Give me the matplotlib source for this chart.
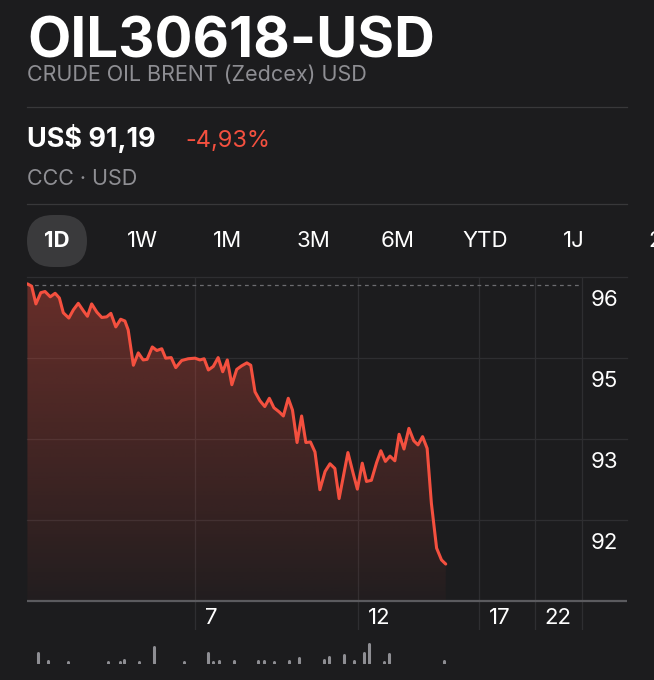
import numpy as np
import matplotlib.pyplot as plt
from matplotlib.patches import FancyBboxPatch, PathPatch
from matplotlib.colors import to_rgb

W, H = 654, 680

symbol = "OIL30618-USD"
long_name = "CRUDE OIL BRENT (Zedcex) USD"
price_text = "US$ 91,19"
change_text = "-4,93%"
exchange = "CCC · USD"
ranges = ["1D", "1W", "1M", "3M", "6M", "YTD", "1J", "2J"]

prev_close = 95.92

# intraday quotes (clock hours, price)
times = [1.86, 1.99, 2.12, 2.27, 2.40, 2.56, 2.71, 2.84, 2.96, 3.13,
         3.27, 3.42, 3.58, 3.70, 3.83, 3.99, 4.14, 4.29, 4.42, 4.57,
         4.72, 4.85, 4.95, 5.11, 5.26, 5.41, 5.53, 5.69, 5.83, 5.98,
         6.10, 6.27, 6.41, 6.59, 6.79, 7.00, 7.15, 7.28, 7.41, 7.56,
         7.71, 7.85, 7.99, 8.13, 8.28, 8.43, 8.59, 8.71, 8.84, 8.99,
         9.14, 9.28, 9.42, 9.58, 9.71, 9.86, 9.99, 10.13, 10.27, 10.40,
         10.54, 10.68, 10.83, 10.99, 11.14, 11.29, 11.42, 11.69, 11.85, 11.98,
         12.13, 12.26, 12.41, 12.57, 12.70, 12.84, 12.98, 13.13, 13.26, 13.41,
         13.56, 13.71, 13.84, 13.98, 14.12, 14.25, 14.41, 14.56, 14.69]
prices = [95.94, 95.90, 95.60, 95.79, 95.81, 95.72, 95.78, 95.70, 95.45, 95.36,
          95.50, 95.61, 95.48, 95.39, 95.60, 95.46, 95.37, 95.38, 95.44, 95.21,
          95.34, 95.31, 95.16, 94.56, 94.77, 94.65, 94.66, 94.87, 94.81, 94.84,
          94.68, 94.69, 94.52, 94.64, 94.67, 94.68, 94.65, 94.67, 94.48, 94.54,
          94.69, 94.45, 94.65, 94.23, 94.49, 94.55, 94.60, 94.56, 94.11, 93.96,
          93.86, 94.00, 93.84, 93.77, 93.70, 94.00, 93.80, 93.25, 93.70, 93.25,
          93.26, 93.09, 92.45, 92.76, 92.89, 92.81, 92.30, 93.08, 92.73, 92.46,
          92.90, 92.59, 92.61, 92.91, 93.11, 92.93, 93.02, 92.94, 93.39, 93.14,
          93.49, 93.28, 93.21, 93.35, 93.15, 92.22, 91.46, 91.26, 91.19]

vol_times = [2.19, 2.50, 3.11, 4.34, 4.70, 4.82, 5.28, 5.74, 6.66, 7.41,
             7.56, 7.74, 8.21, 8.94, 9.13, 9.43, 9.89, 10.19, 10.96, 11.12,
             11.57, 11.88, 12.18, 12.34, 12.80, 12.96, 14.65]
volumes = [12.3, 4.3, 2.3, 1.0, 1.7, 6.0, 3.7, 18.3, 3.7, 12.7,
           1.0, 5.0, 4.3, 4.3, 5.0, 1.0, 5.0, 7.7, 5.7, 8.3,
           11.0, 4.3, 12.3, 21.7, 2.3, 11.7, 4.3]

hour_ticks = [7, 12, 15.71, 17.43]
hour_labels = ["7", "12", "17", "22"]
grid_prices = [96.056, 94.683, 93.309, 91.936]
grid_labels = ["96", "95", "93", "92"]

BG = "#1c1c1e"
RED = "#f4503f"
GREY = "#8e8e93"
GRID = "#2e2e31"
SEP = "#38383a"

plt.rcParams["font.family"] = ["Inter", "DejaVu Sans"]

fig = plt.figure(figsize=(W / 100, H / 100), dpi=100, facecolor=BG)


def box(x0, y0, x1, y1):
    # pixel box (top-left origin) -> figure rect
    return [x0 / W, 1 - y1 / H, (x1 - x0) / W, (y1 - y0) / H]


x_lo, x_hi, x_edge = 1.847, 20.25, 18.87
y_top, y_bot, base = 96.056, 90.072, 90.563

ax = fig.add_axes(box(27, 277, 627, 630))
ax.set_facecolor("none")
for s in ax.spines.values():
    s.set_visible(False)
ax.set_xticks([])
ax.set_yticks([])

for v in grid_prices:
    ax.axhline(v, color=GRID, lw=0.9, clip_on=False, zorder=0)
for t in hour_ticks + [x_edge]:
    ax.axvline(t, color=GRID, lw=0.9, zorder=0)
ax.axhline(base, color="#5b5b5f", lw=1.6, zorder=4)
ax.plot([x_lo, x_edge], [prev_close, prev_close], color="#6c6c70",
        lw=0.9, ls=(0, (3, 3)), zorder=2)

# gradient under the line
poly = ax.fill_between(times, prices, base, color="none", lw=0)
clip = PathPatch(poly.get_paths()[0], transform=ax.transData,
                 facecolor="none", edgecolor="none")
ax.add_patch(clip)
rgba = np.zeros((256, 1, 4))
rgba[:, 0, :3] = to_rgb(RED)
rgba[:, 0, 3] = np.linspace(0.36, 0.03, 256)
im = ax.imshow(rgba, extent=[x_lo, times[-1], base, y_top], aspect="auto",
               origin="upper", zorder=1)
im.set_clip_path(clip)

ax.plot(times, prices, color=RED, lw=2.2, solid_joinstyle="round",
        solid_capstyle="round", zorder=3)
ax.set_xlim(x_lo, x_hi)
ax.set_ylim(y_bot, y_top)

for v, lab in zip(grid_prices, grid_labels):
    ax.annotate(lab, xy=(x_edge, v), xytext=(6.5, -16.5),
                textcoords="offset points", ha="left", va="center",
                color="white", fontsize=16, annotation_clip=False)
for t, lab in zip(hour_ticks, hour_labels):
    ax.annotate(lab, xy=(t, base), xytext=(7, -12.5),
                textcoords="offset points", ha="left", va="center",
                color="white", fontsize=16, annotation_clip=False)

# volume
vax = fig.add_axes(box(27, 642, 627, 664))
vax.set_xlim(x_lo, x_hi)
vax.set_ylim(0, 22)
vax.axis("off")
vax.vlines(vol_times, 1.5, [max(v - 1.5, 1.6) for v in volumes],
           color=GREY, lw=2.2, capstyle="round")

# header in pixel coordinates
hax = fig.add_axes([0, 0, 1, 1])
hax.set_xlim(0, W)
hax.set_ylim(H, 0)
hax.axis("off")
hax.text(27, 57, symbol, color="white", fontsize=40.5, fontweight="bold",
         va="baseline")
hax.text(27, 81, long_name, color=GREY, fontsize=15.5, va="baseline")
hax.plot([27, 627], [107, 107], color=SEP, lw=0.9)
hax.text(27, 147, price_text, color="white", fontsize=19.5, fontweight="bold",
         va="baseline")
hax.text(185, 147, change_text, color=RED, fontsize=17, va="baseline")
hax.text(27, 185, exchange, color=GREY, fontsize=15.5, va="baseline")
hax.plot([27, 627], [204, 204], color=SEP, lw=0.9)

hax.add_patch(FancyBboxPatch((27, 215), 60, 52,
                             boxstyle="round,pad=0,rounding_size=26",
                             facecolor="#3a3a3c", edgecolor="none"))
tab_x = [57, 142, 228, 313, 398, 485, 574, 662]
for i, (x, lab) in enumerate(zip(tab_x, ranges)):
    hax.text(x, 241, lab, color="white", fontsize=16, ha="center",
             va="center", fontweight="bold" if i == 0 else "normal")

fig.savefig("out.png", dpi=100, facecolor=BG)
